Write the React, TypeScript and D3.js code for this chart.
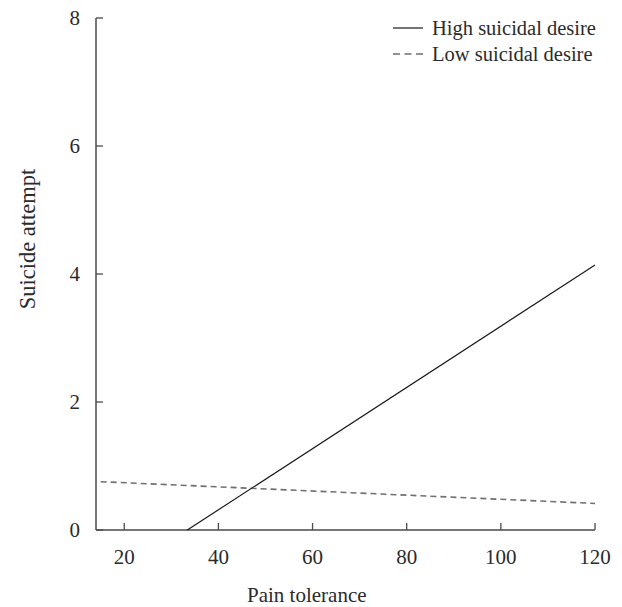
import React from 'react'
import * as d3 from 'd3'

const painTolerance = [33.4, 120]
const highDesire = [0, 4.14]
const lowPain = [15, 120]
const lowDesire = [0.755, 0.415]
const xTicks = [20, 40, 60, 80, 100, 120]
const yTicks = [0, 2, 4, 6, 8]
const seriesNames = ['High suicidal desire', 'Low suicidal desire']

const W = 622
const H = 607
const margin = { top: 18, right: 24, bottom: 77, left: 96 }
const FONT = '"Liberation Serif", "Times New Roman", serif'

const App = () => {
  const x = d3.scaleLinear().domain([14, 120]).range([margin.left, 595])
  const y = d3.scaleLinear().domain([0, 8]).range([H - margin.bottom, margin.top])

  const line = d3.line<[number, number]>()
    .x(d => x(d[0]))
    .y(d => y(d[1]))

  const high = painTolerance.map((p, i) => [p, highDesire[i]] as [number, number])
  const low = lowPain.map((p, i) => [p, lowDesire[i]] as [number, number])

  const y0 = y(0)
  const axisColor = '#4a4a4a'
  const textColor = '#2b2b2b'

  return (
    <svg width={W} height={H} style={{ position: 'absolute', left: 0, top: 0 }}
      fontFamily={FONT}>
      <rect width={W} height={H} fill="#fff" />

      {/* y axis */}
      <line x1={x(14)} x2={x(14)} y1={y(8)} y2={y0} stroke={axisColor} strokeWidth={1.5} />
      {yTicks.map(t => (
        <g key={t}>
          <line x1={x(14)} x2={x(14) + 7} y1={y(t)} y2={y(t)} stroke={axisColor} strokeWidth={1.3} />
          <text x={80} y={y(t)} dy="0.35em" textAnchor="end" fontSize={21} fill={textColor}>{t}</text>
        </g>
      ))}

      {/* x axis */}
      <line x1={x(14)} x2={x(120)} y1={y0} y2={y0} stroke={axisColor} strokeWidth={1.5} />
      {xTicks.map(t => (
        <g key={t}>
          <line x1={x(t)} x2={x(t)} y1={y0} y2={y0 - 7} stroke={axisColor} strokeWidth={1.3} />
          <text x={x(t)} y={564} textAnchor="middle" fontSize={21} fill={textColor}>{t}</text>
        </g>
      ))}

      <path d={line(low) || ''} fill="none" stroke="#707070" strokeWidth={1.6} strokeDasharray="6,4" />
      <path d={line(high) || ''} fill="none" stroke="#1a1a1a" strokeWidth={1.2} />

      <text x={247} y={602} fontSize={21} fill={textColor}>Pain tolerance</text>
      <text transform={`translate(35,239) rotate(-90)`} textAnchor="middle" fontSize={22.5} fill={textColor}>
        Suicide attempt
      </text>

      {/* legend */}
      <line x1={393} x2={423} y1={28} y2={28} stroke="#1a1a1a" strokeWidth={1.2} />
      <text x={432} y={35} fontSize={20.5} fill={textColor}>{seriesNames[0]}</text>
      <line x1={393} x2={423} y1={54} y2={54} stroke="#707070" strokeWidth={1.6} strokeDasharray="7,4.5" />
      <text x={432} y={61} fontSize={20.5} fill={textColor}>{seriesNames[1]}</text>
    </svg>
  )
}

export default App
